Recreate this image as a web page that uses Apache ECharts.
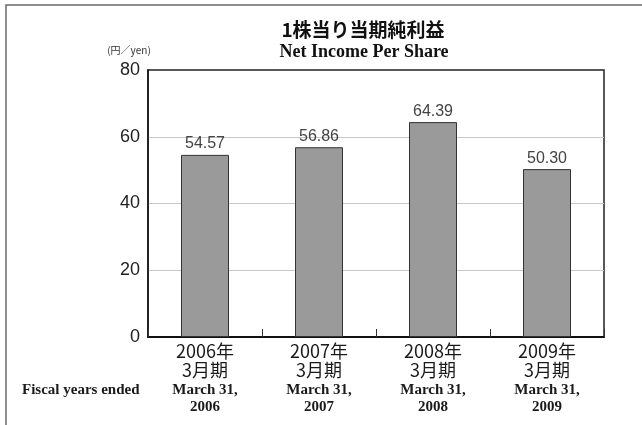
<!DOCTYPE html>
<html>
<head>
<meta charset="utf-8">
<script src="https://cdn.jsdelivr.net/npm/echarts@6/dist/echarts.min.js"></script>
<style>
html,body{margin:0;padding:0;background:#fff;}
#c{width:642px;height:425px;}
</style>
</head>
<body>
<div id="c"></div>
<script>
var jpLabels = ['2006年\n3月期', '2007年\n3月期', '2008年\n3月期', '2009年\n3月期'];
var enLabels = ['March 31,\n2006', 'March 31,\n2007', 'March 31,\n2008', 'March 31,\n2009'];
var values = [54.57, 56.86, 64.39, 50.30];
var valueLabels = ['54.57', '56.86', '64.39', '50.30'];
var titleJP = '1株当り当期純利益';
var titleEN = 'Net Income Per Share';
var unitLabel = '(円／yen)';
var fiscalLabel = 'Fiscal years ended';

var chart = echarts.init(document.getElementById('c'), null, {renderer: 'canvas'});
var jpFont = '"Noto Sans CJK JP", "Noto Sans", sans-serif';
var serif = '"Liberation Serif", "DejaVu Serif", serif';

chart.setOption({
  animation: false,
  backgroundColor: '#ffffff',
  grid: {
    left: 148, right: 38, top: 70, bottom: 88,
    show: true, borderColor: '#222', borderWidth: 1.5, backgroundColor: 'transparent'
  },
  xAxis: {
    type: 'category',
    data: jpLabels,
    axisLine: {lineStyle: {color: '#111', width: 2}},
    axisTick: {show: true, inside: true, length: 8, interval: 0, lineStyle: {color: '#333', width: 1}},
    axisLabel: {
      interval: 0,
      margin: 5,
      formatter: function (v, i) {
        var jp = v.split('\n');
        var en = enLabels[i].split('\n');
        return '{a|' + jp[0] + '}\n{a|' + jp[1] + '}\n{c|' + en[0] + '}\n{b|' + en[1] + '}';
      },
      rich: {
        a: {fontFamily: jpFont, fontSize: 18, color: '#1a1a1a', lineHeight: 19, align: 'center'},
        c: {fontFamily: serif, fontWeight: 'bold', fontSize: 15, color: '#1a1a1a', lineHeight: 20, align: 'center'},
        b: {fontFamily: serif, fontWeight: 'bold', fontSize: 15, color: '#1a1a1a', lineHeight: 14, align: 'center'}
      }
    }
  },
  yAxis: {
    type: 'value',
    min: 0, max: 80, interval: 20,
    axisLine: {show: true, lineStyle: {color: '#111', width: 1.5}},
    axisTick: {show: false},
    axisLabel: {margin: 8, fontFamily: '"Liberation Sans", Arial, sans-serif', fontSize: 18, color: '#222'},
    splitLine: {show: true, showMinLine: false, showMaxLine: false, lineStyle: {color: '#c8c8c8', width: 1.2}}
  },
  series: [{
    type: 'bar',
    data: values,
    barWidth: 48,
    itemStyle: {color: '#9a9a9a', borderColor: '#333', borderWidth: 1},
    label: {
      show: true, position: 'top', distance: 3,
      fontFamily: '"Liberation Sans", Arial, sans-serif', fontSize: 16, color: '#444',
      formatter: function (p) { return valueLabels[p.dataIndex]; }
    }
  }],
  graphic: [
    {type: 'polyline', shape: {points: [[6, 425], [6, 5], [642, 5]]}, style: {stroke: '#6a6a6a', lineWidth: 1.5, fill: null}, silent: true},
    {type: 'text', x: 363, y: 30, style: {text: titleJP, font: 'bold 19px ' + jpFont, fill: '#111', textAlign: 'center', textVerticalAlign: 'middle'}},
    {type: 'text', x: 364, y: 52, style: {text: titleEN, font: 'bold 18px ' + serif, fill: '#111', textAlign: 'center', textVerticalAlign: 'middle'}},
    {type: 'text', x: 129, y: 50, style: {text: unitLabel, font: '10px ' + jpFont, fill: '#333', textAlign: 'center', textVerticalAlign: 'middle'}},
    {type: 'text', x: 22, y: 390, style: {text: fiscalLabel, font: 'bold 15px ' + serif, fill: '#1a1a1a', textAlign: 'left', textVerticalAlign: 'middle'}}
  ]
});
</script>
</body>
</html>
